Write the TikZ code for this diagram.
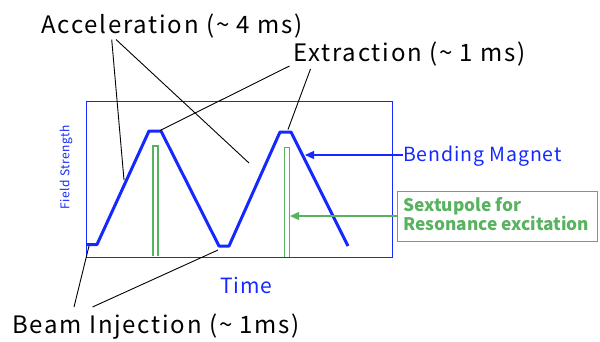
\documentclass[tikz,border=0pt]{standalone}
\usepackage{fontspec}
\setmainfont{Noto Sans CJK JP}
\newfontfamily\lblfont{Noto Sans CJK JP}[LetterSpace=7.5]
\newfontfamily\bmfont{Noto Sans CJK JP}[LetterSpace=4.5]
\newfontfamily\timefont{Noto Sans CJK JP}[LetterSpace=4]
\usetikzlibrary{arrows.meta}
\definecolor{bblue}{RGB}{20,40,255}
\definecolor{sgreen}{RGB}{88,178,96}
\begin{document}
\begin{tikzpicture}[x=1pt,y=-1pt,
  lbl/.style={inner sep=0pt,anchor=base west,font=\lblfont\fontsize{24}{28}\selectfont},
  leader/.style={draw=black,line width=0.9pt},
  trace/.style={draw=bblue,line width=3pt,line join=round},
  pulse/.style={draw=sgreen,line width=1.4pt},
  arr/.style={-{Triangle[length=9pt,width=8pt]}}]
\useasboundingbox (0,0) rectangle (600,341);
% frame
\node[draw=bblue,line width=1.3pt,minimum width=306pt,minimum height=156pt,inner sep=0pt,anchor=north west] (frame) at (86,100.5) {};
% trace
\coordinate (t0) at (86,244.5);
\coordinate (t1) at (97,244.5);
\coordinate (t2) at (149,131);
\coordinate (t3) at (161,131);
\coordinate (t4) at (219,246);
\coordinate (t5) at (229,246);
\coordinate (t6) at (280,132);
\coordinate (t7) at (291,132);
\coordinate (t8) at (348,246);
\draw[trace] (t0) -- (t1) -- (t2) -- (t3) -- (t4) -- (t5) -- (t6) -- (t7) -- (t8);
% pulses
\draw[pulse] (153,256) -- (153,146) -- (158,146) -- (158,256);
\draw[pulse] (284.5,257) -- (284.5,147.5) -- (289.5,147.5) -- (289.5,257);
% labels
\node[lbl] (acc) at (41,33) {Acceleration (\textasciitilde{} 4 ms)};
\node[lbl] (ext) at (293,61) {Extraction (\textasciitilde{} 1 ms)};
\node[lbl] (inj) at (12,333) {Beam Injection (\textasciitilde{} 1ms)};
\node[font=\timefont\fontsize{21}{24}\selectfont,text=bblue,inner sep=0pt,anchor=base] (time) at (246,293) {Time};
\node[font=\timefont\fontsize{12}{14}\selectfont,text=bblue,inner sep=0pt,rotate=90] (fs) at (66,167) {Field Strength};
\node[font=\bmfont\fontsize{19.5}{22}\selectfont,text=bblue,inner sep=0pt,anchor=base west] (bm) at (403,161.5) {Bending Magnet};
\node[draw=sgreen,line width=1.3pt,minimum width=200pt,minimum height=50pt,inner sep=0pt,anchor=north west] (sbox) at (397,191) {};
\node[font=\bfseries\fontsize{17.3}{19}\selectfont,text=sgreen,inner sep=0pt,anchor=base west,align=left] (sx1) at (403,211.5) {Sextupole for};
\node[font=\bfseries\fontsize{17.3}{19}\selectfont,text=sgreen,inner sep=0pt,anchor=base west,align=left] (sx2) at (403,230) {Resonance excitation};
% arrows
\coordinate (bmend) at (305,155);
\draw[bblue,line width=1.3pt,arr] (bm.west |- 0,155) -- (bmend);
\coordinate (sxend) at (290,216);
\draw[sgreen,line width=1.3pt,arr] (sbox.west |- 0,216) -- (sxend);
% leaders
\coordinate (a1) at (124,180);
\coordinate (a2) at (249,163);
\draw[leader] (111.7,39.5) -- (a1);
\draw[leader] (116,39.5) -- (a2);
\coordinate (e1) at (160,130.5);
\coordinate (e2) at (288,129.5);
\draw[leader] (289.5,66) -- (e1);
\draw[leader] (310.5,69) -- (e2);
\coordinate (i1) at (89,246);
\coordinate (i2) at (218,250);
\draw[leader] (74,307) -- (i1);
\draw[leader] (92.5,307) -- (i2);
\end{tikzpicture}
\end{document}
